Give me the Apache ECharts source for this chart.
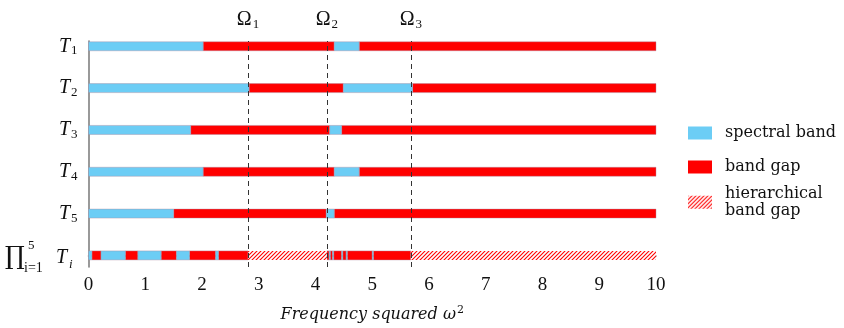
<!DOCTYPE html>
<html>
<head>
<meta charset="utf-8">
<script src="https://cdn.jsdelivr.net/npm/echarts@6/dist/echarts.min.js"></script>
<style>html,body{margin:0;padding:0;background:#fff}#c{width:844px;height:328px}</style>
</head>
<body>
<div id="c"></div>
<script>
// ---- data ----
// rows: 0 = product, 1 = T5, 2 = T4, 3 = T3, 4 = T2, 5 = T1
const rowLabels = ['', 'T5', 'T4', 'T3', 'T2', 'T1'];
const rowSubs = ['', '5', '4', '3', '2', '1'];
const omegas = [2.81, 4.20, 5.68];
const omegaNames = ['1', '2', '3'];
// [row, start, end]
const spectralBands = [
  [5, 0, 2.02], [5, 4.33, 4.77],
  [4, 0, 2.83], [4, 4.49, 5.71],
  [3, 0, 1.80], [3, 4.25, 4.46],
  [2, 0, 2.02], [2, 4.33, 4.77],
  [1, 0, 1.50], [1, 4.19, 4.33],
  [0, 0, 0.06], [0, 0.22, 0.65], [0, 0.87, 1.28], [0, 1.55, 1.78], [0, 2.24, 2.29],
  [0, 4.24, 4.26], [0, 4.30, 4.32], [0, 4.46, 4.48], [0, 4.54, 4.56], [0, 5.00, 5.02]
];
const bandGaps = [
  [5, 2.02, 4.33], [5, 4.77, 10],
  [4, 2.83, 4.49], [4, 5.71, 10],
  [3, 1.80, 4.25], [3, 4.46, 10],
  [2, 2.02, 4.33], [2, 4.77, 10],
  [1, 1.50, 4.19], [1, 4.33, 10],
  [0, 0.06, 0.22], [0, 0.65, 0.87], [0, 1.28, 1.55], [0, 1.78, 2.24], [0, 2.29, 2.81],
  [0, 4.20, 4.24], [0, 4.26, 4.30], [0, 4.32, 4.46], [0, 4.48, 4.54], [0, 4.56, 5.00], [0, 5.02, 5.68]
];
const hierarchicalGaps = [
  [0, 2.81, 4.20], [0, 5.68, 10]
];

// ---- styles ----
const SERIF = '"Liberation Serif", "DejaVu Serif", serif';
const SERIF2 = '"DejaVu Serif", serif';
const BLUE = '#6ccdf5';
const RED = '#ff0000';

function makeHatch() {
  const s = 4;
  const cv = document.createElement('canvas');
  cv.width = s; cv.height = s;
  const ctx = cv.getContext('2d');
  ctx.fillStyle = '#ffffff';
  ctx.fillRect(0, 0, s, s);
  ctx.strokeStyle = RED;
  ctx.lineWidth = 1.1;
  ctx.beginPath();
  ctx.moveTo(-1, s + 1); ctx.lineTo(s + 1, -1);
  ctx.moveTo(-1, 1); ctx.lineTo(1, -1);
  ctx.moveTo(s - 1, s + 1); ctx.lineTo(s + 1, s - 1);
  ctx.stroke();
  return cv;
}
const hatch = { image: makeHatch(), repeat: 'repeat' };

function mkRender(fill, stroke) {
  return function (params, api) {
    const row = api.value(0);
    const p0 = api.coord([api.value(1), row]);
    const p1 = api.coord([api.value(2), row]);
    const h = 9;
    return {
      type: 'rect',
      shape: { x: p0[0], y: p0[1] - h / 2, width: p1[0] - p0[0], height: h },
      style: stroke ? { fill: fill, stroke: 'rgba(170,140,160,0.7)', lineWidth: 0.6 } : { fill: fill }
    };
  };
}

const chart = echarts.init(document.getElementById('c'), null, { renderer: 'canvas' });

const labelRich = {
  t: { fontFamily: SERIF, fontStyle: 'italic', fontSize: 20, color: '#111' },
  s: { fontFamily: SERIF, fontSize: 13, color: '#111', padding: [9, 0, 0, 1] }
};

chart.setOption({
  animation: false,
  grid: { left: 88.5, right: 188, top: 41, bottom: 59 },
  xAxis: {
    type: 'value', min: 0, max: 10, interval: 1,
    axisLine: { show: true, lineStyle: { color: '#808080', width: 1.6 } },
    axisTick: { show: false },
    splitLine: { show: false },
    axisLabel: { fontFamily: SERIF, fontSize: 19, color: '#111', margin: 9 },
    name: '{t|Frequency squared ω}{s|2}',
    nameLocation: 'middle',
    nameGap: 38,
    nameTextStyle: {
      rich: {
        t: { fontFamily: SERIF2, fontStyle: 'italic', fontSize: 16, color: '#111' },
        s: { fontFamily: SERIF2, fontSize: 11, color: '#111', padding: [0, 0, 9, 1] }
      }
    }
  },
  yAxis: {
    type: 'value', min: -0.277, max: 5.126,
    axisLine: { show: true, lineStyle: { color: '#808080', width: 1.6 } },
    axisTick: { show: false },
    splitLine: { show: false },
    axisLabel: {
      customValues: [1, 2, 3, 4, 5],
      margin: 11,
      formatter: function (v) {
        const i = Math.round(v);
        return '{t|T}{s|' + rowSubs[i] + '}';
      },
      rich: labelRich
    }
  },
  legend: [
    { data: ['spectral band'], left: 688, top: 125, formatter: function () { return '{a|spectral band}'; } },
    { data: ['band gap'], left: 688, top: 159, formatter: function () { return '{a|band gap}'; } },
    { data: ['hierarchical band gap'], left: 688, top: 186, formatter: function () { return '{a|hierarchical}\n{a|band gap}'; } }
  ].map(function (l) {
    return Object.assign({
      orient: 'vertical', icon: 'rect', itemWidth: 24, itemHeight: 13, selectedMode: false, padding: 0,
      textStyle: {
        fontFamily: SERIF2, fontSize: 16, color: '#111', padding: [0, 0, 0, 8],
        rich: { a: { fontFamily: SERIF2, fontSize: 16, color: '#111', lineHeight: 16.5 } }
      }
    }, l);
  }),
  graphic: [
    { type: 'text', left: 5, top: 245, style: { text: '∏', font: '25px "DejaVu Serif", serif', fill: '#111' } },
    { type: 'text', left: 28, top: 239, style: { text: '5', font: '13px ' + SERIF, fill: '#111' } },
    { type: 'text', left: 24, top: 261, style: { text: 'i=1', font: '14px ' + SERIF, fill: '#111' } },
    { type: 'text', left: 56, top: 248, style: { text: 'T', font: 'italic 20px ' + SERIF, fill: '#111' } },
    { type: 'text', left: 69, top: 258, style: { text: 'i', font: 'italic 13px ' + SERIF, fill: '#111' } }
  ],
  series: [
    {
      name: 'band gap', type: 'custom', renderItem: mkRender(RED, true),
      itemStyle: { color: RED }, encode: { x: [1, 2], y: 0 }, data: bandGaps, z: 2
    },
    {
      name: 'spectral band', type: 'custom', renderItem: mkRender(BLUE, true),
      itemStyle: { color: BLUE }, encode: { x: [1, 2], y: 0 }, data: spectralBands, z: 3
    },
    {
      name: 'hierarchical band gap', type: 'custom', renderItem: mkRender(hatch, false),
      itemStyle: { color: hatch }, encode: { x: [1, 2], y: 0 }, data: hierarchicalGaps, z: 2,
      markLine: {
        silent: true, symbol: 'none', z: 10,
        lineStyle: { color: '#333', width: 1, type: [5, 4] },
        label: {
          show: true, position: 'end', distance: 10,
          formatter: function (p) { return '{o|Ω}{s|' + p.name + '}'; },
          rich: {
            o: { fontFamily: SERIF, fontSize: 20, color: '#111' },
            s: { fontFamily: SERIF, fontSize: 13, color: '#111', padding: [9, 0, 0, 1] }
          }
        },
        data: omegas.map(function (v, i) { return { xAxis: v, name: omegaNames[i] }; })
      }
    }
  ]
});
</script>
</body>
</html>
